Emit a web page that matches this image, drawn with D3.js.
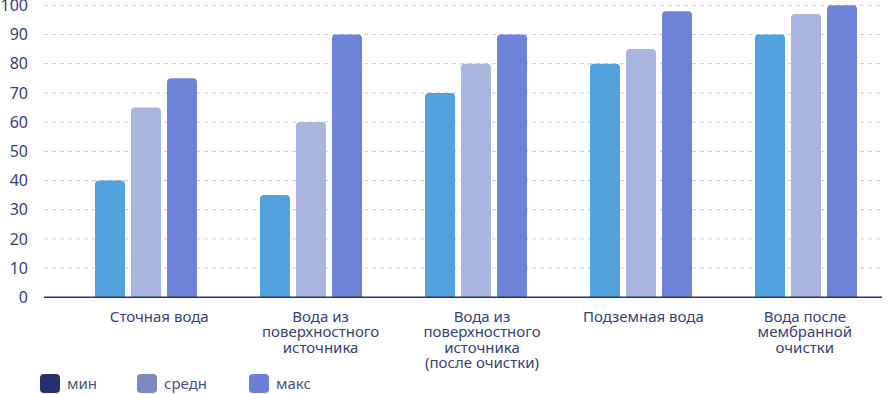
<!DOCTYPE html>
<html>
<head>
<meta charset="utf-8">
<script src="https://cdn.jsdelivr.net/npm/d3@7"></script>
<style>
  body { margin: 0; background: #fff; }
  text { font-family: "Noto Sans", sans-serif; }
</style>
</head>
<body>
<div id="container"></div>
<script>
const w = 896;
const h = 394;

const categories = [
  ['Сточная вода'],
  ['Вода из', 'поверхностного', 'источника'],
  ['Вода из', 'поверхностного', 'источника', '(после очистки)'],
  ['Подземная вода'],
  ['Вода после', 'мембранной', 'очистки']
];
const seriesNames = ['мин', 'средн', 'макс'];
const minValues = [40, 35, 70, 80, 90];
const avgValues = [65, 60, 80, 85, 97];
const maxValues = [75, 90, 90, 98, 100];
const yTicks = [0, 10, 20, 30, 40, 50, 60, 70, 80, 90, 100];

const barColors = ['#52a2dd', '#a9b5de', '#6e82d8'];
const legendColors = ['#27306e', '#7a8aba', '#6b7fd7'];

const svg = d3.select('#container')
  .append('svg')
  .attr('width', w)
  .attr('height', h)
  .attr('viewBox', [0, 0, w, h]);

const plot = {left: 44, right: 882, top: 5.3, bottom: 297.3};

const idx = d3.range(categories.length);
const x = d3.scaleBand()
  .domain(idx)
  .range([63.5, 888.5]);
const xLabel = d3.scaleBand()
  .domain(idx)
  .range([78.5, 885.5]);
const xInner = d3.scaleBand()
  .domain(d3.range(3))
  .range([(165 - 102) / 2, (165 + 102) / 2])
  .paddingInner(6 / 36);
const y = d3.scaleLinear()
  .domain([0, 100])
  .range([plot.bottom, plot.top]);

// grid
svg.append('g')
  .selectAll('line')
  .data(yTicks.slice(1))
  .enter()
  .append('line')
  .attr('x1', plot.left)
  .attr('x2', plot.right)
  .attr('y1', d => y(d))
  .attr('y2', d => y(d))
  .attr('stroke', '#c6c9e0')
  .attr('stroke-width', 1)
  .attr('stroke-dasharray', '4,4');

// y axis labels
const yAxis = d3.axisLeft(y)
  .tickValues(yTicks)
  .tickSize(0)
  .tickPadding(0);
svg.append('g')
  .attr('transform', 'translate(28,0)')
  .call(yAxis)
  .call(g => g.select('.domain').remove())
  .call(g => g.selectAll('text')
    .attr('fill', '#363f7a')
    .style('font-size', '16px')
    .style('font-family', '"Noto Sans", sans-serif'));

// bars
const series = [minValues, avgValues, maxValues];
const r = 4;
function topRounded(x0, y0, bw, y1) {
  const rr = Math.min(r, (y1 - y0) / 2);
  return `M${x0},${y1}V${y0 + rr}Q${x0},${y0} ${x0 + rr},${y0}` +
    `H${x0 + bw - rr}Q${x0 + bw},${y0} ${x0 + bw},${y0 + rr}V${y1}Z`;
}
const groups = svg.append('g')
  .selectAll('g')
  .data(idx)
  .enter()
  .append('g')
  .attr('transform', i => `translate(${x(i)},0)`);
groups.selectAll('path')
  .data(i => series.map((s, k) => ({k, v: s[i]})))
  .enter()
  .append('path')
  .attr('fill', d => barColors[d.k])
  .attr('d', d => topRounded(xInner(d.k), y(d.v), xInner.bandwidth(), y(0)));

// baseline
svg.append('line')
  .attr('x1', plot.left)
  .attr('x2', plot.right)
  .attr('y1', y(0))
  .attr('y2', y(0))
  .attr('stroke', '#2b3270')
  .attr('stroke-width', 1.5);

// category labels
const labels = svg.append('g')
  .selectAll('text')
  .data(idx)
  .enter()
  .append('text')
  .attr('text-anchor', 'middle')
  .attr('fill', '#363f7a')
  .style('font-size', '15px');
labels.selectAll('tspan')
  .data(i => categories[i].map(t => ({i, t})))
  .enter()
  .append('tspan')
  .attr('x', d => xLabel(d.i) + xLabel.bandwidth() / 2)
  .attr('y', (d, j) => 322 + j * 15.3)
  .text(d => d.t);

// legend
const legendX = d3.scaleOrdinal()
  .domain(seriesNames)
  .range([40, 137, 249]);
const legend = svg.append('g')
  .selectAll('g')
  .data(seriesNames)
  .enter()
  .append('g')
  .attr('transform', d => `translate(${legendX(d)},374)`);
legend.append('rect')
  .attr('width', 20)
  .attr('height', 19)
  .attr('rx', 4)
  .attr('fill', (d, i) => legendColors[i]);
legend.append('text')
  .attr('x', 27)
  .attr('y', 14.5)
  .attr('fill', '#4a5285')
  .style('font-size', '15px')
  .text(d => d);
</script>
</body>
</html>
